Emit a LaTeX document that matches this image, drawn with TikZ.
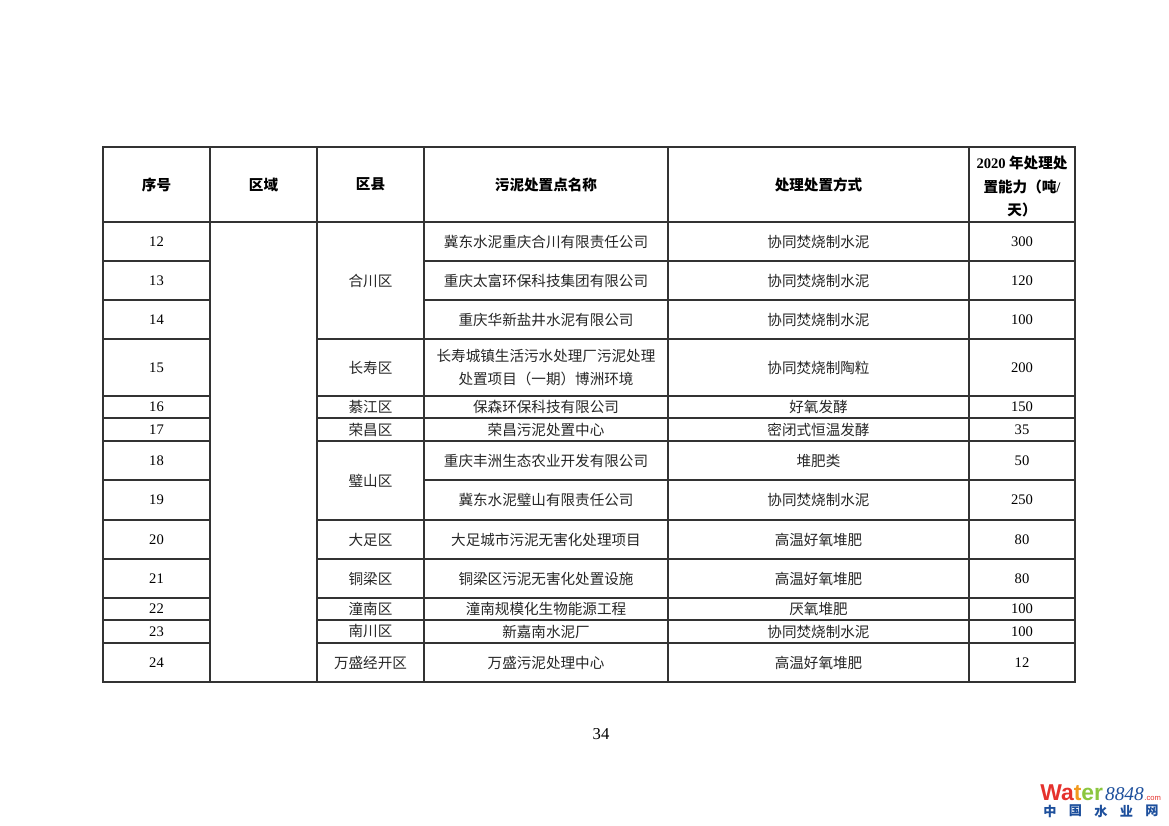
\documentclass[tikz,border=0pt]{standalone}
\usepackage{fontspec}
\setmainfont{Liberation Serif}
\newfontfamily\cjk{Noto Sans CJK SC}
\newfontfamily\logofont{Liberation Sans}
\usetikzlibrary{positioning}

\definecolor{logored}{HTML}{E5322D}
\definecolor{logoorange}{HTML}{F29A1F}
\definecolor{logogreen}{HTML}{8CC63F}
\definecolor{logoblue}{HTML}{1D4F9C}

\tikzset{
 rule/.style={line width=0.9pt, draw=black!80, line cap=rect},
 cell/.style={font=\cjk\fontsize{10.5}{16}\selectfont, text=black!85, inner sep=0pt, align=center},
 num/.style={font=\fontsize{10.5}{16}\selectfont, inner sep=0pt},
 head/.style={font=\cjk\bfseries\fontsize{10.5}{17}\selectfont, inner sep=0pt, align=center},
}

\begin{document}
\begin{tikzpicture}[x=0.72pt,y=-0.72pt]
 \useasboundingbox (0,0) rectangle (1169,826);
 % Vertical lines
 \foreach \x in {103,210,317,424,668,969,1075}
  \draw[rule] (\x,147) -- (\x,682);
 % Horizontal lines
 \foreach \y in {147,222,682}
  \draw[rule] (103,\y) -- (1075,\y);
 \foreach \y in {261,300,339,396,418,441,480,520,559,598,620,643} {
  \draw[rule] (103,\y) -- (210,\y);
  \draw[rule] (424,\y) -- (1075,\y);
 }
 \foreach \y in {339,396,418,441,520,559,598,620,643}
  \draw[rule] (317,\y) -- (424,\y);
 % Header
 \node[head] (hno) at (156.5,184.5) {序号};
 \node[head] (hregion) at (263.5,184.5) {区域};
 \node[head] (hcounty) at (370.5,184.5) {区县};
 \node[head] (hsite) at (546,184.5) {污泥处置点名称};
 \node[head] (hway) at (818.5,184.5) {处理处置方式};
 \node[head] (hamount) at (1022,186.5) {{\rmfamily 2020} 年处理处\\置能力（吨{\rmfamily /}\\天）};
 % Rows
 \foreach \n/\ya/\yb/\site/\way/\amount in {
  12/222/261/冀东水泥重庆合川有限责任公司/协同焚烧制水泥/300,
  13/261/300/重庆太富环保科技集团有限公司/协同焚烧制水泥/120,
  14/300/339/重庆华新盐井水泥有限公司/协同焚烧制水泥/100,
  15/339/396/{长寿城镇生活污水处理厂污泥处理\\处置项目（一期）博洲环境}/协同焚烧制陶粒/200,
  16/396/418/保森环保科技有限公司/好氧发酵/150,
  17/418/441/荣昌污泥处置中心/密闭式恒温发酵/35,
  18/441/480/重庆丰洲生态农业开发有限公司/堆肥类/50,
  19/480/520/冀东水泥璧山有限责任公司/协同焚烧制水泥/250,
  20/520/559/大足城市污泥无害化处理项目/高温好氧堆肥/80,
  21/559/598/铜梁区污泥无害化处置设施/高温好氧堆肥/80,
  22/598/620/潼南规模化生物能源工程/厌氧堆肥/100,
  23/620/643/新嘉南水泥厂/协同焚烧制水泥/100,
  24/643/682/万盛污泥处理中心/高温好氧堆肥/12} {
  \node[num] (no\n) at (156.5,{(\ya+\yb)/2}) {\n};
  \node[cell] (site\n) at (546,{(\ya+\yb)/2}) {\site};
  \node[cell] (way\n) at (818.5,{(\ya+\yb)/2}) {\way};
  \node[num] (amount\n) at (1022,{(\ya+\yb)/2}) {\amount};
 }
 % Counties
 \foreach \d/\ya/\yb/\county in {
  hechuan/222/339/合川区, changshou/339/396/长寿区, qijiang/396/418/綦江区,
  rongchang/418/441/荣昌区, bishan/441/520/璧山区, dazu/520/559/大足区,
  tongliang/559/598/铜梁区, tongnan/598/620/潼南区, nanchuan/620/643/南川区,
  wansheng/643/682/万盛经开区}
  \node[cell] (\d) at (370.5,{(\ya+\yb)/2}) {\county};
 % Page number
 \node[font=\fontsize{12}{14}\selectfont, inner sep=0pt] (page) at (601,734) {34};
 % Logo
 \node[font=\logofont\bfseries\fontsize{16.5}{17}\selectfont, inner sep=0pt, anchor=base west] (logoword) at (1040,800)
  {\textcolor{logored}{Wa}\textcolor{logoorange}{t}\textcolor{logogreen}{er}};
 \node[font=\itshape\fontsize{14}{14}\selectfont, text=logoblue, inner sep=0pt, anchor=base west, right=1pt of logoword.base east, anchor=base west] (logonum) {8848};
 \node[font=\logofont\fontsize{5.5}{6}\selectfont, text=logored, inner sep=0pt, anchor=base west] (logocom) at (logonum.base east) {.com};
 \foreach \i/\ch in {0/中,1/国,2/水,3/业,4/网}
  \node[font=\cjk\bfseries\fontsize{9.5}{10}\selectfont, text=logoblue, inner sep=0pt] (logo\i) at (1050+25.5*\i,811) {\ch};
\end{tikzpicture}
\end{document}
